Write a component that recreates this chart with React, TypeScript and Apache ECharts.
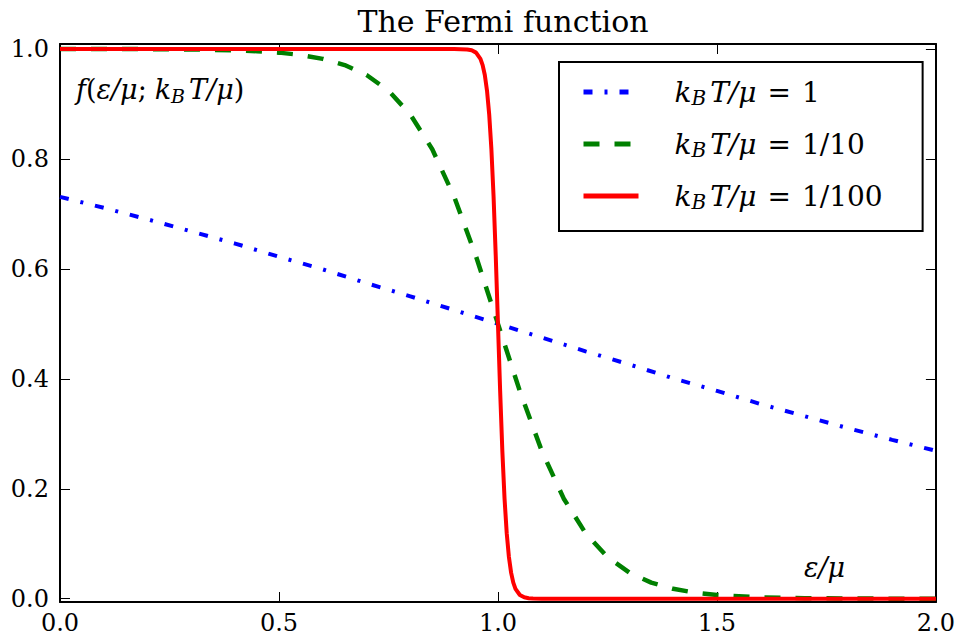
import React, { useEffect, useRef } from "react";
import * as echarts from "echarts";

const SERIF = "'DejaVu Serif', 'Liberation Serif', serif";

const yTicks = [0, 0.2, 0.4, 0.6, 0.8, 1.0];

// kT/mu = 1 (blue, dash-dot)
const blueX = [0, 0.1, 0.2, 0.3, 0.4, 0.5, 0.6, 0.7, 0.8, 0.9, 1.0, 1.1, 1.2, 1.3, 1.4, 1.5, 1.6, 1.7, 1.8, 1.9, 2.0];
const blueY = [0.731, 0.711, 0.69, 0.668, 0.646, 0.622, 0.599, 0.574, 0.55, 0.525, 0.5, 0.475, 0.45, 0.426, 0.401, 0.378, 0.354, 0.332, 0.31, 0.289, 0.269];

// kT/mu = 1/10 (green, dashed)
const greenX = [0, 0.1, 0.2, 0.3, 0.4, 0.45, 0.5, 0.55, 0.6, 0.65, 0.7, 0.75, 0.8, 0.85, 0.9, 0.95, 1.0, 1.05, 1.1, 1.15, 1.2, 1.25, 1.3, 1.35, 1.4, 1.45, 1.5, 1.6, 1.7, 1.8, 1.9, 2.0];
const greenY = [1.0, 0.9999, 0.9997, 0.9991, 0.9975, 0.9959, 0.9933, 0.989, 0.982, 0.9707, 0.9526, 0.9241, 0.8808, 0.8176, 0.7311, 0.6225, 0.5, 0.3775, 0.2689, 0.1824, 0.1192, 0.0759, 0.0474, 0.0293, 0.018, 0.011, 0.0067, 0.0025, 0.0009, 0.0003, 0.0001, 0.0];

// kT/mu = 1/100 (red, solid)
const redX = [0, 0.5, 0.9, 0.93, 0.94, 0.95, 0.96, 0.965, 0.97, 0.975, 0.98, 0.985, 0.99, 0.995, 1.0, 1.005, 1.01, 1.015, 1.02, 1.025, 1.03, 1.035, 1.04, 1.05, 1.06, 1.07, 1.08, 1.1, 1.5, 2.0];
const redY = [1.0, 1.0, 1.0, 0.9991, 0.9975, 0.9933, 0.982, 0.9707, 0.9526, 0.9241, 0.8808, 0.8176, 0.7311, 0.6225, 0.5, 0.3775, 0.2689, 0.1824, 0.1192, 0.0759, 0.0474, 0.0293, 0.018, 0.0067, 0.0025, 0.0009, 0.0003, 0.0, 0.0, 0.0];

const seriesNames = ["blue", "green", "red"];
const legendLabels: Record<string, string> = {
  blue: "1",
  green: "1/10",
  red: "1/100",
};

const zip = (xs: number[], ys: number[]) => xs.map((x, i) => [x, ys[i]]);

const richStyles = (size: number, spW: number) => ({
  g: { width: 31 },
  sp: { width: spW },
  t: { width: 4 },
  i: { fontFamily: SERIF, fontStyle: "italic", fontSize: size, color: "#000", lineHeight: 32 },
  u: { fontFamily: SERIF, fontSize: size, color: "#000", lineHeight: 32 },
  s: { fontFamily: SERIF, fontStyle: "italic", fontSize: Math.round(size * 0.7), color: "#000", lineHeight: 32, verticalAlign: "bottom" },
});

export default function App() {
  const ref = useRef<HTMLDivElement>(null);
  useEffect(() => {
    if (!ref.current) return;
    const chart = echarts.init(ref.current, undefined, { renderer: "svg" });
    const grid = { left: 60, right: 21, top: 44, bottom: 39 };
    const axisCommon = {
      type: "value" as const,
      splitLine: { show: false },
      axisLine: { show: true, onZero: false, lineStyle: { color: "#000", width: 2 } },
      axisTick: { show: true, inside: true, length: 10, lineStyle: { color: "#000", width: 1 } },
    };
    chart.setOption({
      animation: false,
      backgroundColor: "#fff",
      title: {
        text: "The Fermi function",
        left: 498,
        top: 1,
        textAlign: "center",
        textStyle: { fontFamily: SERIF, fontWeight: "normal", fontSize: 30, color: "#000" },
      },
      grid: { ...grid, show: false },
      legend: {
        orient: "vertical",
        left: 559,
        top: 62,
        data: seriesNames,
        backgroundColor: "#fff",
        borderColor: "#000",
        borderWidth: 2,
        borderRadius: 0,
        padding: [16, 40, 19, 22],
        itemGap: 22,
        itemWidth: 55,
        itemHeight: 14,
        selectedMode: false,
        itemStyle: { opacity: 0 },
        lineStyle: { width: 5 },
        formatter: (name: string) =>
          `{g|}{i|k}{s|B}{t|}{i|T/μ}{sp|}{u|=}{sp|}{u|${legendLabels[name]}}`,
        textStyle: { rich: richStyles(28, 11) },
      },
      xAxis: [
        {
          ...axisCommon,
          position: "bottom",
          min: 0,
          max: 2,
          interval: 0.5,
          axisLabel: {
            show: true,
            margin: 9,
            fontFamily: SERIF,
            fontSize: 24,
            color: "#000",
            formatter: (v: number) => v.toFixed(1),
          },
        },
        {
          ...axisCommon,
          position: "top",
          min: 0,
          max: 2,
          interval: 0.5,
          axisLabel: { show: false },
        },
      ],
      yAxis: [
        {
          ...axisCommon,
          position: "left",
          min: -0.006,
          max: 1.009,
          axisTick: { ...axisCommon.axisTick, customValues: yTicks },
          axisLabel: {
            show: true,
            margin: 11,
            fontFamily: SERIF,
            fontSize: 24,
            color: "#000",
            customValues: yTicks,
            formatter: (v: number) => v.toFixed(1),
          },
        },
        {
          ...axisCommon,
          position: "right",
          min: -0.006,
          max: 1.009,
          axisTick: { ...axisCommon.axisTick, customValues: yTicks },
          axisLabel: { show: false, customValues: yTicks },
        },
      ],
      graphic: [
        {
          type: "text",
          left: 76,
          top: 76,
          style: {
            text: "{i|f}{u|(}{i|ε/μ}{u|;}{sp|}{i|k}{s|B}{t|}{i|T/μ}{u|)}",
            rich: richStyles(27, 8),
          },
        },
        {
          type: "text",
          left: 804,
          top: 554,
          style: {
            text: "{i|ε/μ}",
            rich: richStyles(27, 8),
          },
        },
      ],
      series: [
        {
          name: "blue",
          type: "line",
          data: zip(blueX, blueY),
          symbol: "none",
          color: "#0000ff",
          lineStyle: { color: "#0000ff", width: 4, type: [9, 12, 3, 12], cap: "butt" },
          z: 3,
        },
        {
          name: "green",
          type: "line",
          data: zip(greenX, greenY),
          symbol: "none",
          color: "#008000",
          lineStyle: { color: "#008000", width: 4.5, type: [16, 15], cap: "butt" },
          z: 4,
        },
        {
          name: "red",
          type: "line",
          data: zip(redX, redY),
          symbol: "none",
          color: "#ff0000",
          lineStyle: { color: "#ff0000", width: 4, type: "solid" },
          z: 5,
        },
      ],
    });
    return () => chart.dispose();
  }, []);
  return (
    <div
      ref={ref}
      style={{ position: "absolute", left: 0, top: 0, width: 958, height: 641 }}
    />
  );
}
